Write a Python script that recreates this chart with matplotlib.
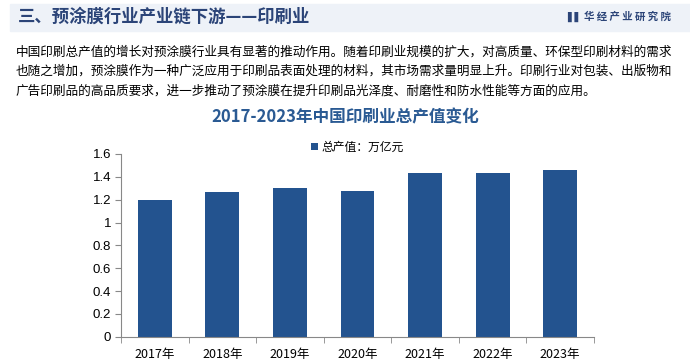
import matplotlib
matplotlib.use("Agg")
import matplotlib.pyplot as plt
from matplotlib.patches import Rectangle

plt.rcParams['font.family'] = ['Noto Sans CJK SC', 'DejaVu Sans']

# data
years = ['2017年', '2018年', '2019年', '2020年', '2021年', '2022年', '2023年']
output = [1.20, 1.27, 1.30, 1.28, 1.43, 1.43, 1.46]
yticks = [0, 0.2, 0.4, 0.6, 0.8, 1, 1.2, 1.4, 1.6]
ytick_labels = ['0', '0.2', '0.4', '0.6', '0.8', '1', '1.2', '1.4', '1.6']

header = '三、预涂膜行业产业链下游——印刷业'
para = ['中国印刷总产值的增长对预涂膜行业具有显著的推动作用。随着印刷业规模的扩大，对高质量、环保型印刷材料的需求',
        '也随之增加，预涂膜作为一种广泛应用于印刷品表面处理的材料，其市场需求量明显上升。印刷行业对包装、出版物和',
        '广告印刷品的高品质要求，进一步推动了预涂膜在提升印刷品光泽度、耐磨性和防水性能等方面的应用。']
chart_title = '2017-2023年中国印刷业总产值变化'
legend_label = '总产值：万亿元'

bar_color = '#23538f'

fig = plt.figure(figsize=(6.9, 3.6), dpi=100)

# header band
fig.patches.append(Rectangle((10/690, 1 - 31/360), 680/690, 27/360,
                             transform=fig.transFigure, color='#eef2f8', zorder=0))
fig.text(18/690, 1 - 17/360, header, fontsize=12.5, fontweight='bold',
         color='#2b4478', va='center', ha='left')
fig.text(567/690, 1 - 17/360, '▌▌', fontsize=7, color='#2b4478', va='center', ha='left',
         family=['DejaVu Sans'])
fig.text(584/690, 1 - 17/360, '华 经 产 业 研 究 院', fontsize=7.5, fontweight='bold',
         color='#2b4478', va='center', ha='left')

for i, line in enumerate(para):
    fig.text(16/690, 1 - (52 + i * 19.5)/360, line, fontsize=9.1, color='black',
             va='center', ha='left')

fig.text(345/690, 1 - 117/360, chart_title, fontsize=12, fontweight='bold',
         color='#2a5a93', va='center', ha='center')

ax = fig.add_axes([121/690, 1 - 336.7/360, (594 - 121)/690, (336.7 - 154)/360])
x = range(len(years))
ax.bar(x, output, width=0.5, color=bar_color, label=legend_label, zorder=2)
ax.set_xlim(-0.5, len(years) - 0.5)
ax.set_ylim(0, 1.6)
ax.set_yticks(yticks)
ax.set_yticklabels(ytick_labels, family=['Liberation Sans', 'DejaVu Sans'])
ax.set_xticks(list(x))
ax.set_xticklabels(years)
ax.tick_params(axis='x', length=0, labelsize=9, pad=8)
ax.tick_params(axis='y', length=4, labelsize=9.5, color='#888888', pad=3)
ax.set_xticks([i - 0.5 for i in range(len(years) + 1)], minor=True)
ax.tick_params(axis='x', which='minor', length=4, color='#888888')
for s in ['top', 'right']:
    ax.spines[s].set_visible(False)
for s in ['left', 'bottom']:
    ax.spines[s].set_color('#888888')
    ax.spines[s].set_linewidth(0.8)

ax.legend(loc='center', bbox_to_anchor=(0.5, 1 + 7/182.7), frameon=False, fontsize=8.5,
          handlelength=0.6, handleheight=0.6, handletextpad=0.3)

fig.savefig('out.png', dpi=100)
